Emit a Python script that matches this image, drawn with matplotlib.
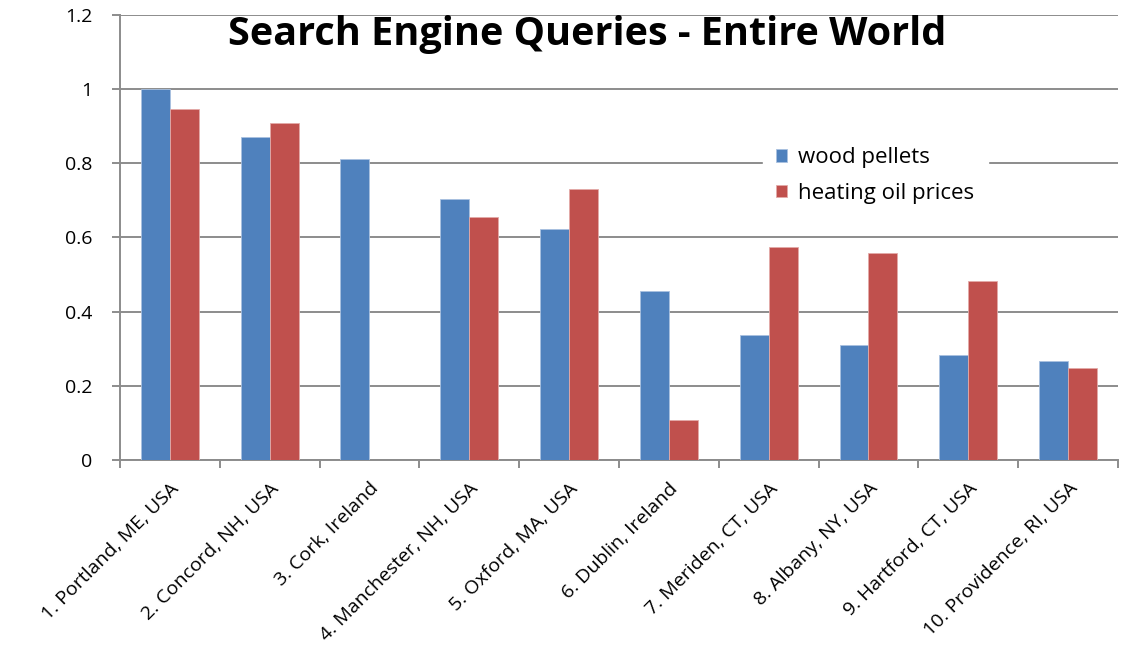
import numpy as np
import matplotlib.pyplot as plt

# data
cities = ['1. Portland, ME, USA', '2. Concord, NH, USA', '3. Cork, Ireland',
          '4. Manchester, NH, USA', '5. Oxford, MA, USA', '6. Dublin, Ireland',
          '7. Meriden, CT, USA', '8. Albany, NY, USA', '9. Hartford, CT, USA',
          '10. Providence, RI, USA']
wood = [1.0, 0.870, 0.812, 0.703, 0.622, 0.456, 0.336, 0.310, 0.284, 0.266]
oil = [0.945, 0.909, 0.0, 0.655, 0.730, 0.108, 0.575, 0.557, 0.482, 0.249]
yticks = [0, 0.2, 0.4, 0.6, 0.8, 1.0, 1.2]
ylabels = ['0', '0.2', '0.4', '0.6', '0.8', '1', '1.2']

plt.rcParams['font.family'] = ['Open Sans', 'DejaVu Sans']

fig = plt.figure(figsize=(11.31, 6.46), dpi=100)
ax = fig.add_axes([0.106, 0.288, 0.8825, 0.689])

x = np.arange(len(cities))
w = 0.29
ax.bar(x - w/2, wood, w, color='#4F81BD', edgecolor='#A9C1E0', linewidth=0.6,
       label='wood pellets', zorder=3)
ax.bar(x + w/2, oil, w, color='#C0504D', edgecolor='#E3AAA8', linewidth=0.6,
       label='heating oil prices', zorder=3)

ax.set_xlim(-0.5, len(cities) - 0.5)
ax.set_ylim(0, 1.2)
ax.set_yticks(yticks)
ax.set_yticklabels(ylabels, fontsize=14)
ax.yaxis.grid(True, color='#8C8C8C', linewidth=1.4, zorder=0)

# category ticks at the group boundaries, labels at the centres
ax.set_xticks(np.arange(len(cities) + 1) - 0.5)
ax.set_xticklabels([])
ax.set_xticks(x, minor=True)
ax.set_xticklabels(cities, minor=True, rotation=45, ha='right',
                   rotation_mode='anchor', fontsize=14)
ax.tick_params(axis='x', which='minor', length=0, pad=14)
ax.tick_params(axis='x', which='major', length=6, width=1.4, color='#8C8C8C')
ax.tick_params(axis='y', length=6, width=1.4, color='#8C8C8C', pad=14)

for s in ['top', 'right']:
    ax.spines[s].set_visible(False)
for s in ['left', 'bottom']:
    ax.spines[s].set_color('#8C8C8C')
    ax.spines[s].set_linewidth(1.4)

ax.text(0.468, 0.955, 'Search Engine Queries - Entire World', transform=ax.transAxes,
        ha='center', va='center', fontsize=28.5, fontweight='bold')

leg = ax.legend(loc='upper left', bbox_to_anchor=(0.633, 0.757), fontsize=16,
                frameon=True, fancybox=False, handlelength=0.5, handleheight=0.5,
                handletextpad=0.5, labelspacing=0.65, borderpad=0.6)
leg.get_frame().set_edgecolor('white')
leg.get_frame().set_alpha(1)
leg.set_zorder(5)

fig.savefig('out.png', dpi=100)
